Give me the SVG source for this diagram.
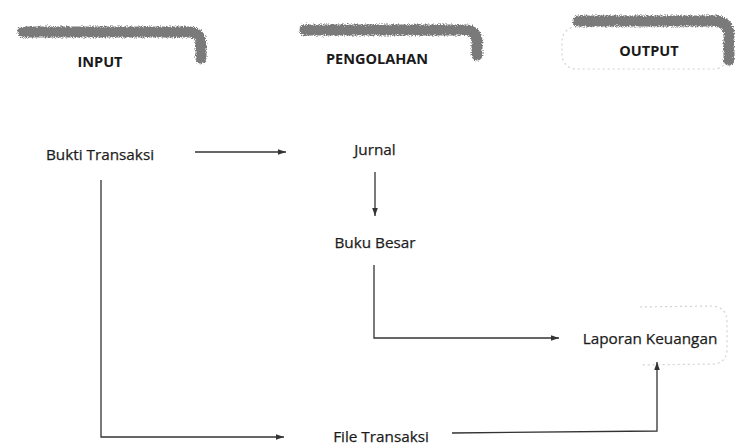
<svg xmlns="http://www.w3.org/2000/svg" width="735" height="446" viewBox="0 0 735 446">
  <style>
    .lbl { font-family: "Open Sans", "Liberation Sans", sans-serif; font-size: 15.3px; fill: #1c1c1c; stroke: #1c1c1c; stroke-width: 0.25; text-anchor: middle; }
    .hdr { font-family: "Open Sans", "Liberation Sans", sans-serif; font-size: 14.5px; font-weight: bold; fill: #1a1a1a; text-anchor: middle; }
    .brush { fill: none; stroke: #7a7a7a; stroke-width: 11; stroke-linecap: round; stroke-linejoin: round; filter: url(#rough); }
    .edge { fill: none; stroke: #333; stroke-width: 1.3; }
    .ghost { fill: none; stroke: #d2d2d2; stroke-width: 1.2; stroke-dasharray: 2 3; }
  </style>
  <defs>
    <filter id="rough" x="-10%" y="-50%" width="120%" height="200%">
      <feTurbulence type="fractalNoise" baseFrequency="0.9" numOctaves="2" result="n"/>
      <feDisplacementMap in="SourceGraphic" in2="n" scale="5" xChannelSelector="R" yChannelSelector="G" result="d"/>
      <feGaussianBlur in="d" stdDeviation="0.7"/>
    </filter>
    <marker id="arr" viewBox="0 0 10 10" refX="10" refY="5" markerWidth="9" markerHeight="8" markerUnits="userSpaceOnUse" orient="auto">
      <path d="M0,1.5 L10,5 L0,8.5 Z" fill="#333"/>
    </marker>
  </defs>

  <!-- column headers -->
  <g id="hdr-input">
    <path class="brush" d="M23,32 L190,32 Q201,33 201,44 L201,58"/>
    <text class="hdr" x="100" y="67">INPUT</text>
  </g>
  <g id="hdr-pengolahan">
    <path class="brush" d="M305,30 L466,30 Q477,31 477,42 L477,55"/>
    <text class="hdr" x="377" y="64">PENGOLAHAN</text>
  </g>
  <g id="hdr-output">
    <rect class="ghost" x="562" y="27" width="166" height="42" rx="14"/>
    <path class="brush" stroke="#5a5a5a" d="M578,21 L716,21 Q729,22 729,35 L729,60"/>
    <text class="hdr" x="649" y="56">OUTPUT</text>
  </g>

  <!-- nodes -->
  <g id="bukti-transaksi">
    <text class="lbl" x="100" y="160">Bukti Transaksi</text>
  </g>
  <g id="jurnal">
    <text class="lbl" x="375" y="155">Jurnal</text>
  </g>
  <g id="buku-besar">
    <text class="lbl" x="375" y="248">Buku Besar</text>
  </g>
  <g id="laporan-keuangan">
    <path class="ghost" d="M640,307 L712,306 Q727,307 727,322 L727,350 Q726,364 712,364 L640,365"/>
    <text class="lbl" x="650" y="344">Laporan Keuangan</text>
  </g>
  <g id="file-transaksi">
    <text class="lbl" x="381" y="442">File Transaksi</text>
  </g>

  <!-- connectors -->
  <g id="connectors">
    <line class="edge" x1="195" y1="152" x2="286" y2="152" marker-end="url(#arr)"/>
    <line class="edge" x1="375" y1="172" x2="375" y2="216" marker-end="url(#arr)"/>
    <polyline class="edge" points="374,265 374,338 559,338" marker-end="url(#arr)"/>
    <polyline class="edge" points="101,180 101,437 284,437" marker-end="url(#arr)"/>
    <polyline class="edge" points="452,433 657,431 657,362" marker-end="url(#arr)"/>
  </g>
</svg>
